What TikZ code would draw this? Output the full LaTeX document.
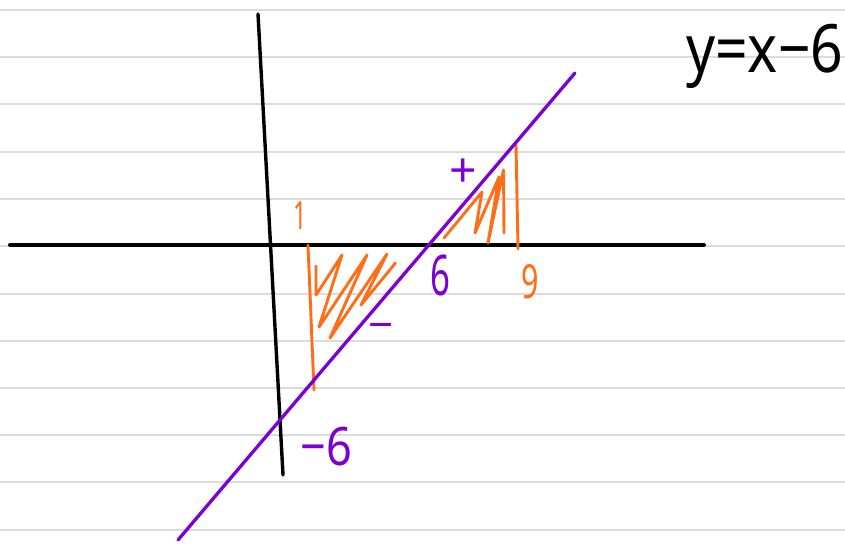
\documentclass[tikz,border=0pt]{standalone}
\usepackage{fontspec}
\setmainfont{Noto Sans}
\definecolor{rule}{HTML}{DCDCDC}
\definecolor{pen}{HTML}{7A00D6}
\definecolor{hl}{HTML}{FF6E17}
\tikzset{
  ruleline/.style={draw=rule,line width=1.6pt},
  axis/.style={draw=black,line width=4pt,line cap=round},
  graphline/.style={draw=pen,line width=3.3pt,line cap=round},
  shade/.style={draw=hl,line width=2.9pt,line cap=round,line join=round},
  purplelabel/.style={text=pen,inner sep=0pt},
  orangelabel/.style={text=hl,inner sep=0pt}
}
\begin{document}
\begin{tikzpicture}[x=1pt,y=-1pt]
\useasboundingbox[fill=white] (0,0) rectangle (845,543);
% ruled paper
\foreach \yy in {10,57,104,152,199,246,294,341,388,435,482,530}
  \draw[ruleline] (0,\yy) -- (845,\yy);
% axes
\coordinate (xl) at (10,245);
\coordinate (xr) at (704,245);
\coordinate (yt) at (258,14);
\coordinate (yb) at (283,475);
\draw[axis] (xl) -- (xr);
\draw[axis,line width=3.4pt] (yt) -- (yb);
% orange region
\coordinate (l1) at (308,245);
\coordinate (l2) at (314,390);
\coordinate (r1) at (516,145);
\coordinate (r2) at (518,249);
\draw[shade] (l1) -- (l2);
\draw[shade] (r1) -- (r2);
\draw[shade] (316,266) -- (316,295) -- (342,255) -- (319,327) -- (367,255)
  -- (330,338) -- (387,254) -- (361,305) -- (395.5,263);
\draw[shade] (444,238) -- (482,192) -- (475,233) -- (499,177) -- (488,243)
  -- (503.5,170) -- (504,233);
% line y = x - 6
\coordinate (pa) at (178,540);
\coordinate (pb) at (575,73);
\draw[graphline] (pa) -- (pb);
% labels
\node[orangelabel,font=\fontsize{39}{39}\selectfont,xscale=0.6] (one) at (300.5,216) {1};
\node[orangelabel,font=\fontsize{47}{47}\selectfont,xscale=0.65] (nine) at (530,282) {9};
\node[purplelabel,font=\fontsize{56}{56}\selectfont,xscale=0.62] (six) at (440,276) {6};
\node[purplelabel,font=\fontsize{48}{48}\selectfont] (plus) at (463,173) {+};
\node[purplelabel,font=\fontsize{44}{44}\selectfont,anchor=base] (minus) at (381,340) {−};
\node[purplelabel,font=\fontsize{53}{53}\selectfont,xscale=0.85] (msix) at (326.5,446.5) {−6};
\node[inner sep=0pt,anchor=base west,font=\fontsize{57}{57}\selectfont,yscale=1.17] (eq) at (686,73) {y=x−6};
\end{tikzpicture}
\end{document}
